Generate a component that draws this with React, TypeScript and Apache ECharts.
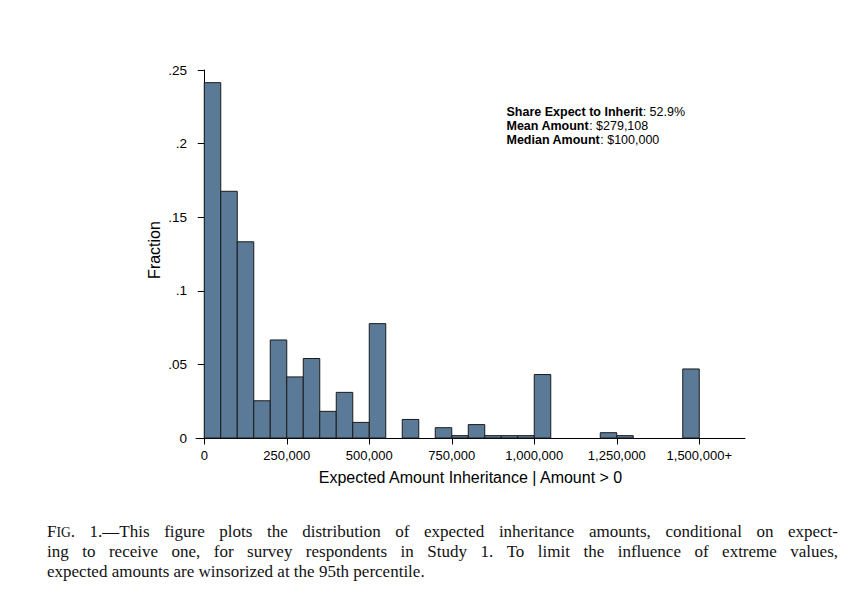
import React, { useEffect, useRef } from "react";
import * as echarts from "echarts";

// ---- data ----
const binWidth = 50000;
const binStarts = [
  0, 50000, 100000, 150000, 200000, 250000, 300000, 350000, 400000, 450000,
  500000, 600000, 700000, 750000, 800000, 850000, 900000, 950000, 1000000,
  1200000, 1250000, 1450000,
];
const fractions = [
  0.2414, 0.1676, 0.1333, 0.0253, 0.0666, 0.0415, 0.054, 0.0181, 0.031, 0.0106,
  0.0777, 0.0126, 0.007, 0.0016, 0.0091, 0.0016, 0.0016, 0.0016, 0.0431,
  0.0036, 0.0016, 0.0469,
];
const xTickValues = [0, 250000, 500000, 750000, 1000000, 1250000, 1500000];
const xTickLabels = ["0", "250,000", "500,000", "750,000", "1,000,000", "1,250,000", "1,500,000+"];
const yTickValues = [0, 0.05, 0.1, 0.15, 0.2, 0.25];
const statLabels = ["Share Expect to Inherit", "Mean Amount", "Median Amount"];
const statValues = ["52.9%", "$279,108", "$100,000"];
const xTitle = "Expected Amount Inheritance | Amount > 0";
const yTitle = "Fraction";
const captionLines = [
  "FIG. 1.\u2014This figure plots the distribution of expected inheritance amounts, conditional on expect-",
  "ing to receive one, for survey respondents in Study 1.  To limit the influence of extreme values,",
  "expected amounts are winsorized at the 95th percentile.",
];

const SANS = "Liberation Sans, Arial, Helvetica, sans-serif";
const SERIF = "Liberation Serif, Times New Roman, serif";

function buildCaption(): any[] {
  const canvas = document.createElement("canvas");
  const ctx = canvas.getContext("2d") as CanvasRenderingContext2D;
  const measure = (t: string, size: number) => {
    ctx.font = `${size}px "Liberation Serif"`;
    return ctx.measureText(t).width;
  };
  const left = 47;
  const right = 838;
  const base = 16;
  const natural =
    measure("F", base) + measure("IG", base * 0.8) + measure(". 1.\u2014This figure plots the distribution of expected inheritance amounts, conditional on expect-", base);
  let CAP_SIZE = Math.min(17, (base * (right - left - 6)) / natural);
  if (!isFinite(CAP_SIZE) || CAP_SIZE < 12) CAP_SIZE = 16.5;
  const CAP_SMALL = CAP_SIZE * 0.8;
  const ys = [531, 551, 571];
  const els: any[] = [];
  captionLines.forEach((line, li) => {
    const y = ys[li];
    if (li === captionLines.length - 1) {
      els.push({
        type: "text",
        x: left,
        y,
        style: { text: line, fontSize: CAP_SIZE, fontFamily: SERIF, fill: "#111", textVerticalAlign: "middle" },
      });
      return;
    }
    const words = line.split(/ +/);
    const widths = words.map((w, i) => {
      if (li === 0 && i === 0 && w === "FIG.") {
        return measure("F", CAP_SIZE) + measure("IG", CAP_SMALL) + measure(".", CAP_SIZE);
      }
      return measure(w, CAP_SIZE);
    });
    const total = widths.reduce((a, b) => a + b, 0);
    const gap = (right - left - total) / (words.length - 1);
    let x = left;
    words.forEach((w, i) => {
      if (li === 0 && i === 0 && w === "FIG.") {
        els.push({
          type: "text",
          x,
          y,
          style: {
            text: "{a|F}{b|IG}{a|.}",
            textVerticalAlign: "middle",
            rich: {
              a: { fontSize: CAP_SIZE, fontFamily: SERIF, fill: "#111" },
              b: { fontSize: CAP_SMALL, fontFamily: SERIF, fill: "#111", verticalAlign: "bottom" },
            },
          },
        });
      } else {
        els.push({
          type: "text",
          x,
          y,
          style: { text: w, fontSize: CAP_SIZE, fontFamily: SERIF, fill: "#111", textVerticalAlign: "middle" },
        });
      }
      x += widths[i] + gap;
    });
  });
  return els;
}

export default function App() {
  const ref = useRef<HTMLDivElement>(null);
  useEffect(() => {
    if (!ref.current) return;
    const chart = echarts.init(ref.current, null, { renderer: "svg" });
    const data = binStarts.map((s, i) => [s, s + binWidth, fractions[i]]);
    const statText = statLabels
      .map((l, i) => `{b|${l}}{n|: ${statValues[i]}}`)
      .join("\n");
    const option: any = {
      animation: false,
      backgroundColor: "#ffffff",
      grid: { left: 196, right: 109, top: 70, bottom: 162, containLabel: false },
      xAxis: {
        type: "value",
        min: -25000,
        max: 1638600,
        name: xTitle,
        nameLocation: "middle",
        nameGap: 31,
        nameTextStyle: { fontSize: 16, color: "#000", fontFamily: SANS },
        axisLine: { show: true, onZero: false, lineStyle: { color: "#000", width: 1 } },
        axisTick: { show: true, customValues: xTickValues, length: 6.5, lineStyle: { color: "#000" } },
        axisLabel: {
          customValues: xTickValues,
          formatter: (v: number) => {
            const idx = xTickValues.indexOf(v);
            return idx >= 0 ? xTickLabels[idx] : "";
          },
          fontSize: 13,
          color: "#000",
          margin: 11,
          fontFamily: SANS,
        },
        splitLine: { show: false },
      },
      yAxis: {
        type: "value",
        min: 0,
        max: 0.25,
        interval: 0.05,
        axisLine: { show: true, lineStyle: { color: "#000", width: 1 } },
        axisTick: { show: true, length: 6.5, customValues: yTickValues, lineStyle: { color: "#000" } },
        axisLabel: {
          customValues: yTickValues,
          formatter: (v: number) => {
            const r = parseFloat(v.toFixed(2));
            return r === 0 ? "0" : String(r).replace(/^0/, "");
          },
          fontSize: 13.5,
          color: "#000",
          margin: 9,
          fontFamily: SANS,
        },
        splitLine: { show: false },
      },
      series: [
        {
          type: "custom",
          data,
          encode: { x: [0, 1], y: 2 },
          renderItem: (params: any, api: any) => {
            const s = api.value(0);
            const e = api.value(1);
            const v = api.value(2);
            const p0 = api.coord([s, v]);
            const p1 = api.coord([e, 0]);
            return {
              type: "rect",
              shape: { x: p0[0], y: p0[1], width: p1[0] - p0[0], height: p1[1] - p0[1] },
              style: { fill: "#5b7a98", stroke: "#1a1a1a", lineWidth: 1 },
            };
          },
        },
      ],
      graphic: [
        {
          type: "text",
          x: 154,
          y: 250,
          rotation: Math.PI / 2,
          style: {
            text: yTitle,
            fontSize: 16,
            fontFamily: SANS,
            fill: "#000",
            textAlign: "center",
            textVerticalAlign: "middle",
          },
        },
        {
          type: "text",
          x: 506.5,
          y: 104.5,
          style: {
            text: statText,
            textVerticalAlign: "top",
            rich: {
              b: { fontSize: 12.5, fontWeight: "bold", fontFamily: SANS, fill: "#000", lineHeight: 14.3 },
              n: { fontSize: 12.5, fontFamily: SANS, fill: "#000", lineHeight: 14.3 },
            },
          },
        },
        ...buildCaption(),
      ],
    };
    chart.setOption(option);
    return () => chart.dispose();
  }, []);
  return (
    <div
      ref={ref}
      style={{ position: "absolute", left: 0, top: 0, width: 854, height: 600, background: "#fff" }}
    />
  );
}
